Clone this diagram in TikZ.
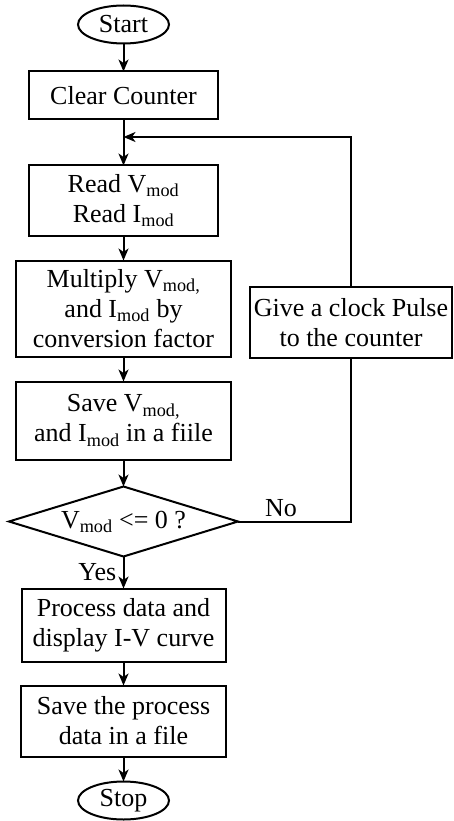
\documentclass[tikz,border=0pt]{standalone}
\usepackage{fontspec}
\setmainfont{Liberation Serif}
\usetikzlibrary{positioning, shapes.geometric, arrows.meta}

\tikzset{
    box/.style={draw, line width=2pt, align=center, inner sep=2pt, outer sep=0pt},
    term/.style={draw, ellipse, line width=2pt, inner sep=0pt, outer sep=0pt, minimum width=91pt, minimum height=38pt},
    decide/.style={draw, diamond, line width=2pt, inner sep=0pt, outer sep=0pt, aspect=3.3, minimum width=229pt, minimum height=70pt},
    flow/.style={line width=2pt, -{Stealth[length=12pt, width=10pt, inset=3.5pt]}},
    link/.style={line width=2pt}
}

\begin{document}
\begin{tikzpicture}[x=1pt, y=-1pt, font=\fontsize{26}{30}\selectfont]
    \useasboundingbox (0,0) rectangle (453,821);
    % main column
    \node[term] (start) at (123.5,24.5) {Start};
    \node[box, minimum width=189pt, minimum height=48pt, below=28pt of start] (clear) {Clear Counter};
    \node[box, minimum width=189pt, minimum height=70pt, below=46pt of clear] (read) {Read V\textsubscript{mod}\\Read I\textsubscript{mod}};
    \node[box, minimum width=215pt, minimum height=96pt, below=25pt of read] (mult) {Multiply V\textsubscript{mod,}\\and I\textsubscript{mod} by\\conversion factor};
    \node[box, minimum width=215pt, minimum height=78pt, below=25pt of mult] (save) {Save V\textsubscript{mod,}\\and I\textsubscript{mod} in a fiile};
    \node[decide, below=27pt of save] (check) {V\textsubscript{mod} <= 0 ?};
    \node[box, minimum width=204pt, minimum height=73pt, below=32pt of check] (proc) {Process data and\\display I-V curve};
    \node[box, minimum width=205pt, minimum height=71pt, below=24pt of proc] (store) {Save the process\\data in a file};
    \node[term, below=25pt of store] (stop) {Stop};
    % loop back
    \node[box, minimum width=202pt, minimum height=71pt] (clock) at (351,322.5) {Give a clock Pulse\\to the counter};
    \coordinate (merge) at (123.5,137);

    \draw[flow] (start) -- (clear);
    \draw[flow] (clear) -- (read);
    \draw[flow] (read) -- (mult);
    \draw[flow] (mult) -- (save);
    \draw[flow] (save) -- (check);
    \draw[flow] (check) -- node[left, xshift=-3pt] {Yes} (proc);
    \draw[flow] (proc) -- (store);
    \draw[flow] (store) -- (stop);
    \draw[link] (check.east) -| node[above, pos=0.19] {No} (clock.south);
    \draw[flow] (clock.north) |- (merge);
\end{tikzpicture}
\end{document}
